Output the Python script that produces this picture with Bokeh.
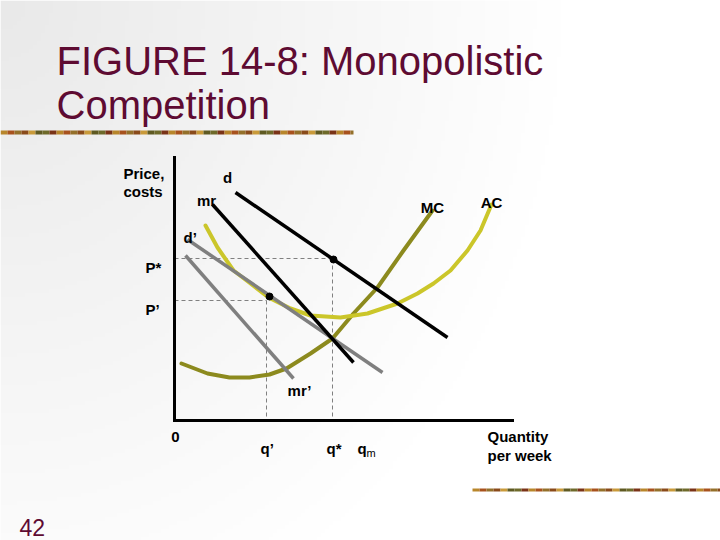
import numpy as np
from bokeh.plotting import figure
from bokeh.models import Range1d, LinearAxis, FixedTicker
from bokeh.core.properties import value
from bokeh.embed import file_html
from bokeh.resources import INLINE

# ---------------- data (quantity, price) ----------------
title_lines = ["FIGURE 14-8: Monopolistic", "Competition"]
slide_number = "42"

axis_q_max = 338
axis_p_max = 263

d_q = [61, 273]
d_p = [228, 83]
mr_q = [38, 179]
mr_p = [216, 58]
d2_q = [13, 208]
d2_p = [181, 48]
mr2_q = [11, 119]
mr2_p = [165, 42]

ac_q = [31, 43, 59, 76, 94, 116, 136, 166, 193, 223, 243, 259, 276, 293, 306, 317]
ac_p = [195, 173, 150, 137, 123, 112, 105, 103, 107, 117, 127, 137, 150, 170, 190, 216]

mc_q = [7, 33, 55, 75, 95, 112, 136, 158, 179, 203, 229, 258]
mc_p = [57, 47, 43, 43, 46, 52, 67, 82, 107, 133, 170, 210]

q_star, p_star = 158, 162
q_prime, p_prime = 92, 120
dot_q = [159, 95]
dot_p = [161, 124]

curve_labels = ["d", "mr", "MC", "AC", "mr\u2019"]
curve_label_q = [53, 32, 258, 317, 125]
curve_label_p = [243, 220, 213, 218, 30]

left_labels = ["Price,", "costs", "d\u2019", "P*", "P\u2019", "q\u2019", "q*", "q", "Quantity", "per week"]
left_label_q = [-51, -51, 9, -29, -29, 86, 152, 183, 313, 313]
left_label_p = [247, 229, 183, 153, 111, -28, -28, -28, -16, -35]

FONT = "Liberation Sans, Arial, sans-serif"
MAROON = "#5e0b32"

# ---------------- figure ----------------
W, H = 720, 540
X0, Y0 = -174, -120
p = figure(width=W, height=H, output_backend="svg", toolbar_location=None,
           x_axis_type=None, y_axis_type=None, min_border=0,
           x_range=Range1d(X0, X0 + W), y_range=Range1d(Y0, Y0 + H))
p.outline_line_color = None
p.background_fill_color = "white"
p.border_fill_color = "white"
p.grid.visible = False

# background gradient (grey at top-left fading to white)
gh, gw = H // 4, W // 4
ys = (np.arange(gh) + 0.5) * 4
xs = (np.arange(gw) + 0.5) * 4
xr = xs[None, :]
yr = (H - ys)[:, None]
t = np.sqrt((xr / 560.0) ** 2 + (yr / 650.0) ** 2)
g = (233 + 22 * np.clip(t, 0, 1)).astype(np.uint32)
img = (255 << 24) | (g << 16) | (g << 8) | g
p.image_rgba(image=[img.astype(np.uint32)], x=X0, y=Y0, dw=W, dh=H)

# decorative bars
palette = ["#b8862b", "#8a4b1a", "#6e6a2a", "#a8521d", "#c99a3a", "#7a3317", "#94702a", "#5f5a22"]
def bar(q0, q1, p0, p1):
    lefts = list(range(q0, q1, 7))
    rights = [min(l + 7, q1) for l in lefts]
    cols = [palette[(i * 3) % len(palette)] for i in range(len(lefts))]
    p.quad(left=lefts, right=rights, bottom=p1, top=p0, fill_color=cols, line_color=None)
bar(-174, 179, 290, 286)
bar(298, 546, -68, -71)

# axes at the origin
xa = LinearAxis(fixed_location=0, bounds=(0, axis_q_max), ticker=FixedTicker(ticks=[]),
                axis_line_width=3, axis_line_color="black", axis_line_cap="square",
                major_tick_line_color=None, minor_tick_line_color=None,
                major_label_text_font_size="0px")
ya = LinearAxis(fixed_location=0, bounds=(0, axis_p_max), ticker=FixedTicker(ticks=[]),
                axis_line_width=3, axis_line_color="black", axis_line_cap="square",
                major_tick_line_color=None, minor_tick_line_color=None,
                major_label_text_font_size="0px")
p.add_layout(xa, "below")
p.add_layout(ya, "left")

# dashed guides
p.segment(x0=[0, q_prime], y0=[p_prime, p_prime], x1=[q_prime, q_prime], y1=[p_prime, 0],
          line_color="#808080", line_width=1, line_dash="4 3")
p.segment(x0=[0, q_star], y0=[p_star, p_star], x1=[q_star, q_star], y1=[p_star, 0],
          line_color="#808080", line_width=1, line_dash="4 3")

# curves
p.line(mc_q, mc_p, line_color="#8c8a1e", line_width=4, line_join="round", line_cap="round")
p.line(ac_q, ac_p, line_color="#cbc62a", line_width=4, line_join="round", line_cap="round")
p.line(d2_q, d2_p, line_color="#7f7f7f", line_width=3.5)
p.line(mr2_q, mr2_p, line_color="#7f7f7f", line_width=3.5)
p.line(d_q, d_p, line_color="black", line_width=3.5)
p.line(mr_q, mr_p, line_color="black", line_width=3.5)

p.scatter(dot_q, dot_p, size=7, color="black")

# labels
p.text(x=curve_label_q, y=curve_label_p, text=curve_labels, text_align="center",
       text_baseline="alphabetic", text_font=value(FONT), text_font_style="bold",
       text_font_size="15px", text_color="black")
p.text(x=left_label_q, y=left_label_p, text=left_labels, text_align="left",
       text_baseline="alphabetic", text_font=value(FONT), text_font_style="bold",
       text_font_size="15px", text_color="black")
p.text(x=[1], y=[-16], text=["0"], text_align="center", text_baseline="alphabetic",
       text_font=value(FONT), text_font_style="bold", text_font_size="15px", text_color="black")
p.text(x=[192], y=[-32], text=["m"], text_align="left", text_baseline="alphabetic",
       text_font=value(FONT), text_font_size="11px", text_color="black")

# title and slide number
p.text(x=[-118, -118], y=[360, 316], text=title_lines, text_align="left",
       text_baseline="alphabetic", text_font=value(FONT), text_font_size="40px",
       text_color=MAROON)
p.text(x=[-155], y=[-107], text=[slide_number], text_align="left",
       text_baseline="alphabetic", text_font=value(FONT), text_font_size="23px",
       text_color=MAROON)

open("out.html", "w").write(file_html(p, INLINE))
